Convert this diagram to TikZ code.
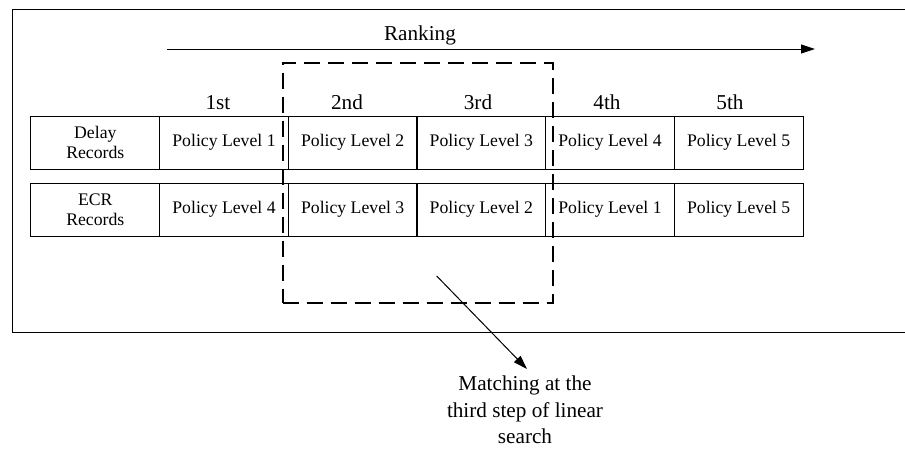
\documentclass[tikz,border=0pt]{standalone}
\usepackage{fontspec}
\setmainfont{Liberation Serif}
\usetikzlibrary{arrows.meta}
\begin{document}
\begin{tikzpicture}[x=1pt,y=-1pt,
  frame/.style={draw=black,line width=1pt},
  cell/.style={draw=black,line width=1pt,minimum width=128.67pt,minimum height=53pt,
    inner sep=0pt,align=center,font=\fontsize{17.7}{20}\selectfont},
  rank/.style={anchor=base,inner sep=0pt,font=\fontsize{21.2}{26.3}\selectfont},
  window/.style={draw=black,line width=2pt,dash pattern=on 16pt off 8pt,
    minimum width=270.8pt,minimum height=240pt,inner sep=0pt},
  pointer/.style={draw=black,line width=1pt,-{Triangle[length=14pt,width=9pt]}}
]
\useasboundingbox (0,0) rectangle (905,448);
\clip (0,0) rectangle (905,448);
% outer frame (open on the right, it runs past the page edge)
\draw[frame] (910,9) -- (12,9) -- (12,332) -- (910,332);

% ranking axis
\coordinate (rs) at (167,49);
\coordinate (re) at (815,49);
\draw[pointer] (rs) -- (re);
\node[rank] (rk) at (420,40.7) {Ranking};

% ordinal headings
\node[rank] (o1) at (218,109.5) {1st};
\node[rank] (o2) at (347,109.5) {2nd};
\node[rank] (o3) at (478,109.5) {3rd};
\node[rank] (o4) at (607,109.5) {4th};
\node[rank] (o5) at (730,109.5) {5th};

% delay records row
\node[cell] (d0) at (95.33,142.5) {Delay\\Records};
\node[cell] (d1) at (224,142.5) {Policy Level 1};
\node[cell] (d2) at (352.67,142.5) {Policy Level 2};
\node[cell] (d3) at (481.33,142.5) {Policy Level 3};
\node[cell] (d4) at (610,142.5) {Policy Level 4};
\node[cell] (d5) at (738.67,142.5) {Policy Level 5};

% ECR records row
\node[cell] (e0) at (95.33,209.5) {ECR\\Records};
\node[cell] (e1) at (224,209.5) {Policy Level 4};
\node[cell] (e2) at (352.67,209.5) {Policy Level 3};
\node[cell] (e3) at (481.33,209.5) {Policy Level 2};
\node[cell] (e4) at (610,209.5) {Policy Level 1};
\node[cell] (e5) at (738.67,209.5) {Policy Level 5};

% search window
\node[window] (win) at (417.9,182.7) {};

% annotation
\node[align=center,inner sep=0pt,font=\fontsize{21.2}{26.3}\selectfont] (note) at (525,410)
  {Matching at the\\third step of linear\\search};
\coordinate (ms) at (436.7,276);
\coordinate (me) at (527,369);
\draw[pointer] (ms) -- (me);
\end{tikzpicture}
\end{document}
